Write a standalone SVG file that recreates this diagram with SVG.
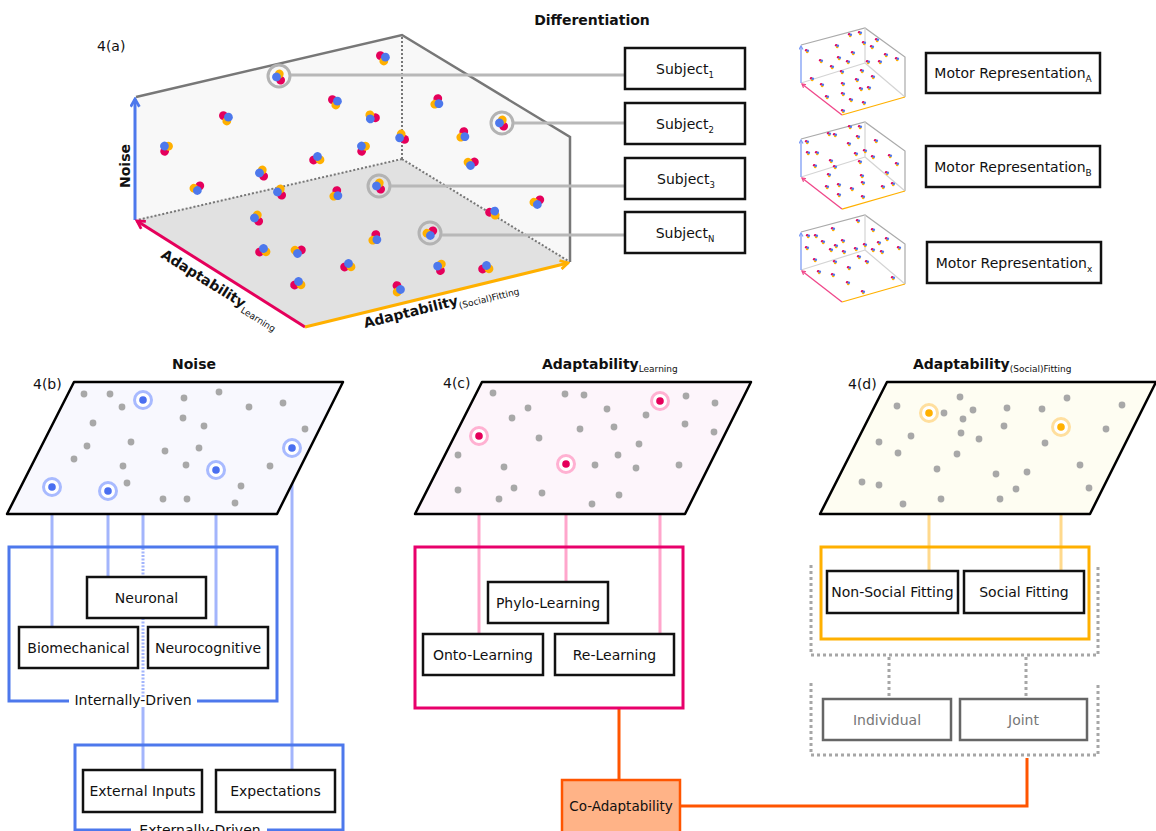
<svg xmlns="http://www.w3.org/2000/svg" width="1156" height="831" viewBox="0 0 1156 831">
<style>
text{font-family:"DejaVu Sans",Verdana,sans-serif;fill:#111}
.t{font-size:14px}
.tm{font-size:14px}
.ttl{font-size:14px;font-weight:bold}
.lbl{font-size:14px}
.box{fill:#fff;stroke:#111;stroke-width:2.5}
.gbox{fill:#fff;stroke:#666;stroke-width:2.5}
.gd{fill:#a8a8a8}
.ring{stroke:#b3b3b3;stroke-width:3;fill:none}
.gcon{stroke:#b8b8b8;stroke-width:3;fill:none}
.blue{stroke:#a3b5fc;stroke-width:3;fill:none}
.pink{stroke:#ffa6cc;stroke-width:3;fill:none}
.yel{stroke:#ffd98c;stroke-width:3;fill:none}
.dot{stroke:#a6a6a6;stroke-width:3;fill:none;stroke-dasharray:3 3}
</style>
<defs>
<g id="c"><circle cx="-2.6" cy="-2.4" r="4.4" fill="#e5005b"/><circle cx="0.8" cy="3" r="4.4" fill="#ffb000"/><circle cx="2.4" cy="-0.8" r="4.4" fill="#4d78ec"/></g>
<g id="m"><circle cx="-0.8" cy="-0.8" r="1.3" fill="#e5005b"/><circle cx="0.2" cy="1" r="1.3" fill="#ffb000"/><circle cx="0.8" cy="-0.2" r="1.3" fill="#4d78ec"/></g>
<marker id="aB" viewBox="0 0 10 10" refX="8" refY="5" markerWidth="11" markerHeight="11" markerUnits="userSpaceOnUse" orient="auto"><path d="M1,1 L8,5 L1,9" fill="none" stroke="#4d78ec" stroke-width="2.5"/></marker>
<marker id="aP" viewBox="0 0 10 10" refX="8" refY="5" markerWidth="11" markerHeight="11" markerUnits="userSpaceOnUse" orient="auto"><path d="M1,1 L8,5 L1,9" fill="none" stroke="#e5005b" stroke-width="2.5"/></marker>
<marker id="aO" viewBox="0 0 10 10" refX="8" refY="5" markerWidth="11" markerHeight="11" markerUnits="userSpaceOnUse" orient="auto"><path d="M1,1 L8,5 L1,9" fill="none" stroke="#ffb000" stroke-width="2.5"/></marker>
<marker id="mB" viewBox="0 0 10 10" refX="8" refY="5" markerWidth="5" markerHeight="5" markerUnits="userSpaceOnUse" orient="auto"><path d="M1,1 L8,5 L1,9" fill="none" stroke="#7d9cf5" stroke-width="2.5"/></marker>
<marker id="mP" viewBox="0 0 10 10" refX="8" refY="5" markerWidth="5" markerHeight="5" markerUnits="userSpaceOnUse" orient="auto"><path d="M1,1 L8,5 L1,9" fill="none" stroke="#f0478a" stroke-width="2.5"/></marker>
<g id="mini">
<path d="M0,-38 L64,-55 L104,-26 L104,14" fill="none" stroke="#aaa" stroke-width="1.2"/>
<path d="M64,-55 V-20 M64,-20 L0,0 M64,-20 L104,14" fill="none" stroke="#d4d4d4" stroke-width="1.2"/>
<path d="M0,0 V-37" stroke="#7d9cf5" stroke-width="1.3" marker-end="url(#mB)"/>
<path d="M41,32 L1,1" stroke="#f0478a" stroke-width="1.3" marker-end="url(#mP)"/>
<path d="M41,32 L104,14" stroke="#ffb000" stroke-width="1.3"/>
</g>
</defs>
<rect width="1156" height="831" fill="#fff"/>

<!-- Panel 4(a) -->
<g id="panel-a">
<text x="97" y="51" class="lbl">4(a)</text>
<text x="592" y="25" class="ttl" text-anchor="middle">Differentiation</text>
<polygon points="135,220 135,97 402,35 402,159" fill="#f8f8f8"/>
<polygon points="402,35 570,137 570,262 402,159" fill="#f8f8f8"/>
<polygon points="135,220 402,159 570,262 305,327" fill="#e1e1e1"/>
<path d="M402,37 V159 M402,159 L137,220 M402,159 L570,262" fill="none" stroke="#777" stroke-width="2" stroke-dasharray="2 2"/>
<path d="M136,97 L402,35 L570,137 L570,262" fill="none" stroke="#777" stroke-width="2.5"/>
<path d="M135,220 V99" stroke="#4d78ec" stroke-width="3" marker-end="url(#aB)"/>
<path d="M305,327 L137,221" stroke="#e5005b" stroke-width="3" marker-end="url(#aP)"/>
<path d="M305,327 L568,263" stroke="#ffb000" stroke-width="3" marker-end="url(#aO)"/>
<text transform="translate(130,166) rotate(-90)" class="ttl" text-anchor="middle">Noise</text>
<text transform="translate(160,257) rotate(32)" class="ttl">Adaptability<tspan font-size="9" font-weight="normal" dy="4">Learning</tspan></text>
<text transform="translate(365,328) rotate(-13.8)" class="ttl">Adaptability<tspan font-size="9" font-weight="normal" dy="4">(Social)Fitting</tspan></text>
<g id="clusters">
<use href="#c" transform="translate(383,58)"/>
<use href="#c" transform="translate(279,77) rotate(200)"/>
<use href="#c" transform="translate(335,102)"/>
<use href="#c" transform="translate(226,118)"/>
<use href="#c" transform="translate(372,117) rotate(150)"/>
<use href="#c" transform="translate(437,102) rotate(60)"/>
<use href="#c" transform="translate(502,123) rotate(200)"/>
<use href="#c" transform="translate(166,148) rotate(250)"/>
<use href="#c" transform="translate(402,137) rotate(180)"/>
<use href="#c" transform="translate(363,148) rotate(250)"/>
<use href="#c" transform="translate(463,135) rotate(60)"/>
<use href="#c" transform="translate(317,159) rotate(300)"/>
<use href="#c" transform="translate(262,173) rotate(200)"/>
<use href="#c" transform="translate(471,163) rotate(120)"/>
<use href="#c" transform="translate(197,188) rotate(100)"/>
<use href="#c" transform="translate(280,192) rotate(200)"/>
<use href="#c" transform="translate(336,194) rotate(60)"/>
<use href="#c" transform="translate(379,186) rotate(200)"/>
<use href="#c" transform="translate(493,213) rotate(330)"/>
<use href="#c" transform="translate(537,202) rotate(100)"/>
<use href="#c" transform="translate(257,218) rotate(200)"/>
<use href="#c" transform="translate(430,233) rotate(100)"/>
<use href="#c" transform="translate(375,238) rotate(60)"/>
<use href="#c" transform="translate(263,251) rotate(300)"/>
<use href="#c" transform="translate(298,251) rotate(120)"/>
<use href="#c" transform="translate(348,266) rotate(300)"/>
<use href="#c" transform="translate(440,267) rotate(220)"/>
<use href="#c" transform="translate(486,268) rotate(300)"/>
<use href="#c" transform="translate(298,284) rotate(300)"/>
<use href="#c" transform="translate(398,289) rotate(30)"/>
</g>
<circle cx="279" cy="76" r="11" class="ring"/>
<circle cx="502" cy="123" r="11" class="ring"/>
<circle cx="379" cy="186" r="11" class="ring"/>
<circle cx="430" cy="233" r="11" class="ring"/>
</g>

<g id="connectors">
<path class="gcon" d="M291,75 H625 M514,123 H625 M391,186 H625 M442,235 H625"/>
<path class="blue" d="M52,487 V627 M108,491 V577 M143,400 V548 M143,707 V770 M216,470 V627 M292,448 V770"/>
<path class="blue" d="M143,548 V697" stroke-dasharray="2 1.5"/>
<path class="pink" d="M479,436 V634 M566,464 V582 M660,401 V634"/>
<path class="yel" d="M929,413 V571 M1061,427 V571"/>
<path class="dot" d="M889,657 V698 M1026,657 V698"/>
<path d="M619,708 V780 M680,806 H1027 V758" fill="none" stroke="#ff5500" stroke-width="3"/>
</g>

<g id="subject-1"><rect x="625" y="48" width="120" height="41" class="box"/><text x="685" y="73.5" class="t" text-anchor="middle">Subject<tspan font-size="8.5" dy="4">1</tspan></text></g>
<g id="subject-2"><rect x="625" y="103" width="120" height="41" class="box"/><text x="685" y="128.5" class="t" text-anchor="middle">Subject<tspan font-size="8.5" dy="4">2</tspan></text></g>
<g id="subject-3"><rect x="625" y="158" width="120" height="41" class="box"/><text x="686" y="183.5" class="t" text-anchor="middle">Subject<tspan font-size="8.5" dy="4">3</tspan></text></g>
<g id="subject-n"><rect x="625" y="212" width="120" height="41" class="box"/><text x="685" y="237.5" class="t" text-anchor="middle">Subject<tspan font-size="8.5" dy="4">N</tspan></text></g>

<!-- mini motor representations -->
<g id="mini-a">
<use href="#mini" transform="translate(801,83)"/>
<g>
<use href="#m" x="850" y="35"/><use href="#m" x="860" y="33"/><use href="#m" x="837" y="46"/><use href="#m" x="807" y="51"/><use href="#m" x="864" y="43"/><use href="#m" x="877" y="40"/><use href="#m" x="872" y="47"/><use href="#m" x="853" y="53"/><use href="#m" x="821" y="61"/><use href="#m" x="839" y="58"/><use href="#m" x="848" y="62"/><use href="#m" x="868" y="62"/><use href="#m" x="880" y="62"/><use href="#m" x="886" y="55"/><use href="#m" x="897" y="59"/><use href="#m" x="832" y="67"/><use href="#m" x="842" y="72"/><use href="#m" x="862" y="71"/><use href="#m" x="812" y="79"/><use href="#m" x="822" y="85"/><use href="#m" x="843" y="84"/><use href="#m" x="857" y="80"/><use href="#m" x="873" y="77"/><use href="#m" x="861" y="89"/><use href="#m" x="869" y="88"/><use href="#m" x="843" y="94"/><use href="#m" x="827" y="97"/><use href="#m" x="851" y="100"/><use href="#m" x="864" y="103"/><use href="#m" x="843" y="111"/>
</g>
</g>
<g id="mini-b">
<use href="#mini" transform="translate(801,177)"/>
<g>
<use href="#m" x="850" y="127"/><use href="#m" x="860" y="127"/><use href="#m" x="829" y="134"/><use href="#m" x="835" y="135"/><use href="#m" x="858" y="137"/><use href="#m" x="807" y="142"/><use href="#m" x="876" y="141"/><use href="#m" x="849" y="144"/><use href="#m" x="808" y="153"/><use href="#m" x="817" y="153"/><use href="#m" x="865" y="151"/><use href="#m" x="856" y="154"/><use href="#m" x="831" y="161"/><use href="#m" x="860" y="162"/><use href="#m" x="873" y="157"/><use href="#m" x="890" y="156"/><use href="#m" x="815" y="166"/><use href="#m" x="835" y="167"/><use href="#m" x="897" y="164"/><use href="#m" x="829" y="175"/><use href="#m" x="862" y="176"/><use href="#m" x="887" y="173"/><use href="#m" x="827" y="187"/><use href="#m" x="839" y="185"/><use href="#m" x="852" y="189"/><use href="#m" x="863" y="183"/><use href="#m" x="883" y="187"/><use href="#m" x="893" y="184"/><use href="#m" x="839" y="195"/><use href="#m" x="863" y="197"/>
</g>
</g>
<g id="mini-x">
<use href="#mini" transform="translate(801,270)"/>
<g>
<use href="#m" x="858" y="221"/><use href="#m" x="833" y="229"/><use href="#m" x="873" y="230"/><use href="#m" x="808" y="236"/><use href="#m" x="816" y="236"/><use href="#m" x="823" y="242"/><use href="#m" x="843" y="241"/><use href="#m" x="887" y="239"/><use href="#m" x="836" y="246"/><use href="#m" x="807" y="248"/><use href="#m" x="879" y="243"/><use href="#m" x="865" y="245"/><use href="#m" x="831" y="250"/><use href="#m" x="844" y="252"/><use href="#m" x="856" y="249"/><use href="#m" x="873" y="250"/><use href="#m" x="882" y="252"/><use href="#m" x="899" y="248"/><use href="#m" x="815" y="260"/><use href="#m" x="835" y="262"/><use href="#m" x="859" y="257"/><use href="#m" x="867" y="262"/><use href="#m" x="849" y="268"/><use href="#m" x="819" y="272"/><use href="#m" x="833" y="275"/><use href="#m" x="848" y="283"/><use href="#m" x="893" y="278"/><use href="#m" x="863" y="292"/>
</g>
</g>
<g id="motor-a"><rect x="926" y="53" width="174" height="40" class="box"/><text x="1013" y="78" class="tm" text-anchor="middle">Motor Representation<tspan font-size="9" dy="4">A</tspan></text></g>
<g id="motor-b"><rect x="926" y="146" width="174" height="41" class="box"/><text x="1013" y="171.5" class="tm" text-anchor="middle">Motor Representation<tspan font-size="9" dy="4">B</tspan></text></g>
<g id="motor-x"><rect x="927" y="242" width="174" height="41" class="box"/><text x="1014" y="267.5" class="tm" text-anchor="middle">Motor Representation<tspan font-size="9" dy="4">x</tspan></text></g>

<!-- Panel 4(b) -->
<g id="panel-b">
<text x="194" y="369" class="ttl" text-anchor="middle">Noise</text>
<text x="33" y="389" class="lbl">4(b)</text>
<polygon points="74,382 343,382 277,514 7,514" fill="#f8f8fe" stroke="#000" stroke-width="2.5" stroke-linejoin="round"/>
<g class="gd">
<circle cx="84" cy="394" r="3.4"/><circle cx="110" cy="394" r="3.4"/><circle cx="122" cy="407" r="3.4"/><circle cx="184" cy="398" r="3.4"/><circle cx="219" cy="392" r="3.4"/><circle cx="249" cy="407" r="3.4"/><circle cx="283" cy="403" r="3.4"/><circle cx="93" cy="423" r="3.4"/><circle cx="183" cy="418" r="3.4"/><circle cx="204" cy="426" r="3.4"/><circle cx="305" cy="429" r="3.4"/><circle cx="87" cy="446" r="3.4"/><circle cx="131" cy="442" r="3.4"/><circle cx="165" cy="451" r="3.4"/><circle cx="199" cy="448" r="3.4"/><circle cx="74" cy="459" r="3.4"/><circle cx="123" cy="466" r="3.4"/><circle cx="186" cy="465" r="3.4"/><circle cx="270" cy="466" r="3.4"/><circle cx="127" cy="483" r="3.4"/><circle cx="241" cy="486" r="3.4"/><circle cx="163" cy="499" r="3.4"/><circle cx="187" cy="499" r="3.4"/><circle cx="235" cy="503" r="3.4"/>
</g>
<path d="M69,701 H9 V547 H277 V701 H197" fill="none" stroke="#4d78ec" stroke-width="3"/>
<text x="133" y="705" class="t" text-anchor="middle">Internally-Driven</text>
<path d="M131,830 H75 V745 H343 V830 H267" fill="none" stroke="#4d78ec" stroke-width="3"/>
<text x="200" y="835" class="t" text-anchor="middle">Externally-Driven</text>
</g>

<!-- Panel 4(c) -->
<g id="panel-c">
<text x="542" y="369" class="ttl">Adaptability<tspan font-size="9" font-weight="normal" dy="3">Learning</tspan></text>
<text x="443" y="388" class="lbl">4(c)</text>
<polygon points="482,382 751,382 685,514 415,514" fill="#fdf5fb" stroke="#000" stroke-width="2.5" stroke-linejoin="round"/>
<g class="gd">
<circle cx="493" cy="393" r="3.4"/><circle cx="565" cy="394" r="3.4"/><circle cx="584" cy="395" r="3.4"/><circle cx="686" cy="396" r="3.4"/><circle cx="715" cy="403" r="3.4"/><circle cx="528" cy="408" r="3.4"/><circle cx="512" cy="418" r="3.4"/><circle cx="607" cy="409" r="3.4"/><circle cx="646" cy="415" r="3.4"/><circle cx="580" cy="429" r="3.4"/><circle cx="614" cy="427" r="3.4"/><circle cx="685" cy="424" r="3.4"/><circle cx="714" cy="432" r="3.4"/><circle cx="539" cy="438" r="3.4"/><circle cx="639" cy="444" r="3.4"/><circle cx="458" cy="455" r="3.4"/><circle cx="504" cy="467" r="3.4"/><circle cx="595" cy="465" r="3.4"/><circle cx="618" cy="455" r="3.4"/><circle cx="636" cy="468" r="3.4"/><circle cx="679" cy="465" r="3.4"/><circle cx="458" cy="490" r="3.4"/><circle cx="514" cy="488" r="3.4"/><circle cx="499" cy="499" r="3.4"/><circle cx="542" cy="493" r="3.4"/><circle cx="592" cy="504" r="3.4"/><circle cx="619" cy="495" r="3.4"/>
</g>
<rect x="415" y="547" width="268" height="161" fill="none" stroke="#e8006b" stroke-width="3"/>
</g>

<!-- Panel 4(d) -->
<g id="panel-d">
<text x="913" y="369" class="ttl">Adaptability<tspan font-size="9" font-weight="normal" dy="3">(Social)Fitting</tspan></text>
<text x="848" y="389" class="lbl">4(d)</text>
<polygon points="887,382 1156,382 1090,514 820,514" fill="#fefdf2" stroke="#000" stroke-width="2.5" stroke-linejoin="round"/>
<g class="gd">
<circle cx="897" cy="406" r="3.4"/><circle cx="960" cy="397" r="3.4"/><circle cx="944" cy="413" r="3.4"/><circle cx="973" cy="410" r="3.4"/><circle cx="963" cy="419" r="3.4"/><circle cx="1007" cy="408" r="3.4"/><circle cx="1042" cy="409" r="3.4"/><circle cx="1067" cy="398" r="3.4"/><circle cx="1122" cy="405" r="3.4"/><circle cx="1004" cy="426" r="3.4"/><circle cx="961" cy="433" r="3.4"/><circle cx="979" cy="439" r="3.4"/><circle cx="911" cy="436" r="3.4"/><circle cx="879" cy="442" r="3.4"/><circle cx="898" cy="453" r="3.4"/><circle cx="957" cy="454" r="3.4"/><circle cx="1045" cy="443" r="3.4"/><circle cx="1106" cy="429" r="3.4"/><circle cx="937" cy="469" r="3.4"/><circle cx="996" cy="474" r="3.4"/><circle cx="1027" cy="472" r="3.4"/><circle cx="1080" cy="465" r="3.4"/><circle cx="862" cy="482" r="3.4"/><circle cx="879" cy="485" r="3.4"/><circle cx="1016" cy="489" r="3.4"/><circle cx="1089" cy="488" r="3.4"/><circle cx="903" cy="504" r="3.4"/><circle cx="941" cy="499" r="3.4"/><circle cx="1000" cy="499" r="3.4"/>
</g>
<path class="dot" d="M811,565 V655 H1098 V565"/>
<path class="dot" d="M811,683 V755 H1098 V683"/>
<rect x="821" y="547" width="268" height="92" fill="none" stroke="#ffb000" stroke-width="3"/>
</g>

<!-- highlighted points (drawn above connectors) -->
<g id="highlights">
<g fill="#fff" stroke="#a8baff" stroke-width="3">
<circle cx="143" cy="400" r="8.5"/><circle cx="52" cy="487" r="8.5"/><circle cx="108" cy="491" r="8.5"/><circle cx="216" cy="470" r="8.5"/><circle cx="292" cy="448" r="8.5"/>
</g>
<g fill="#4a6ff0">
<circle cx="143" cy="400" r="3.8"/><circle cx="52" cy="487" r="3.8"/><circle cx="108" cy="491" r="3.8"/><circle cx="216" cy="470" r="3.8"/><circle cx="292" cy="448" r="3.8"/>
</g>
<g fill="#fff" stroke="#ffb1d2" stroke-width="3">
<circle cx="479" cy="436" r="8.5"/><circle cx="566" cy="464" r="8.5"/><circle cx="660" cy="401" r="8.5"/>
</g>
<g fill="#e5005b">
<circle cx="479" cy="436" r="3.8"/><circle cx="566" cy="464" r="3.8"/><circle cx="660" cy="401" r="3.8"/>
</g>
<g fill="#fff" stroke="#ffdf9e" stroke-width="3">
<circle cx="929" cy="413" r="8.5"/><circle cx="1061" cy="427" r="8.5"/>
</g>
<g fill="#ffb000">
<circle cx="929" cy="413" r="3.8"/><circle cx="1061" cy="427" r="3.8"/>
</g>
</g>

<g id="neuronal"><rect x="87" y="577" width="119" height="41" class="box"/><text x="146.5" y="602.5" class="t" text-anchor="middle">Neuronal</text></g>
<g id="biomechanical"><rect x="19" y="627" width="119" height="41" class="box"/><text x="78.5" y="652.5" class="t" text-anchor="middle">Biomechanical</text></g>
<g id="neurocognitive"><rect x="148" y="627" width="120" height="41" class="box"/><text x="208" y="652.5" class="t" text-anchor="middle">Neurocognitive</text></g>
<g id="external-inputs"><rect x="83" y="770" width="119" height="42" class="box"/><text x="142.5" y="796" class="t" text-anchor="middle">External Inputs</text></g>
<g id="expectations"><rect x="216" y="770" width="119" height="42" class="box"/><text x="275.5" y="796" class="t" text-anchor="middle">Expectations</text></g>

<g id="phylo-learning"><rect x="488" y="582" width="120" height="41" class="box"/><text x="548" y="607.5" class="t" text-anchor="middle">Phylo-Learning</text></g>
<g id="onto-learning"><rect x="423" y="634" width="120" height="41" class="box"/><text x="483" y="659.5" class="t" text-anchor="middle">Onto-Learning</text></g>
<g id="re-learning"><rect x="555" y="634" width="119" height="41" class="box"/><text x="614.5" y="659.5" class="t" text-anchor="middle">Re-Learning</text></g>
<g id="co-adaptability"><rect x="562" y="780" width="118" height="56" fill="#ffb387" stroke="#ff5500" stroke-width="2.5"/><text x="621" y="811" font-size="13.5px" text-anchor="middle">Co-Adaptability</text></g>

<g id="non-social-fitting"><rect x="827" y="571" width="131" height="42" class="box"/><text x="892.5" y="597" font-size="14px" text-anchor="middle">Non-Social Fitting</text></g>
<g id="social-fitting"><rect x="964" y="571" width="120" height="42" class="box"/><text x="1024" y="597" class="t" text-anchor="middle">Social Fitting</text></g>
<g id="individual"><rect x="823" y="699" width="128" height="41" class="gbox"/><text x="887" y="724.5" class="t" text-anchor="middle" style="fill:#777">Individual</text></g>
<g id="joint"><rect x="960" y="699" width="127" height="41" class="gbox"/><text x="1023.5" y="724.5" class="t" text-anchor="middle" style="fill:#777">Joint</text></g>
</svg>
